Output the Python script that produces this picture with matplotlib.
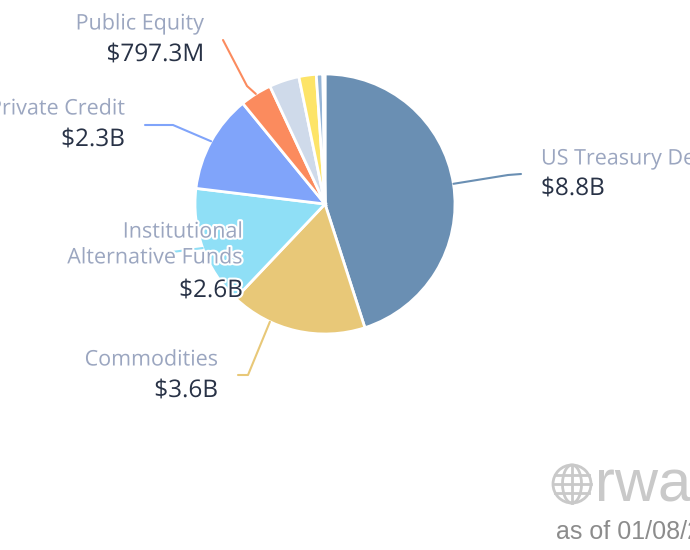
import numpy as np
import matplotlib.pyplot as plt
import matplotlib.patheffects as pe
from matplotlib.patches import Circle, Ellipse

W, H = 690, 550

# slice shares (billions USD)
categories = ['US Treasury Debt', 'Commodities', 'Institutional\nAlternative Funds',
              'Private Credit', 'Public Equity', '', '', '', '']
values = [8.8, 3.33, 2.9, 2.38, 0.77, 0.73, 0.42, 0.16, 0.05]
value_labels = ['$8.8B', '$3.6B', '$2.6B', '$2.3B', '$797.3M', '', '', '', '']
colors = ['#6a8fb3', '#e8c878', '#8fdff6', '#80a4fa', '#fb8b5e',
          '#cfdaea', '#fde468', '#97b6d7', '#c6a7f3']

label_col = '#9ba6c0'
value_col = '#283246'

plt.rcParams['font.family'] = ['Open Sans', 'DejaVu Sans']

fig = plt.figure(figsize=(W / 100, H / 100), dpi=100)
ax = fig.add_axes([0, 0, 1, 1])

cx, cy, r = 325, H - 204, 130
wedges, _ = ax.pie(values, colors=colors, startangle=90, counterclock=False,
                   center=(cx, cy), radius=r, frame=True,
                   wedgeprops=dict(edgecolor='white', linewidth=2))
ax.set_xlim(0, W)
ax.set_ylim(0, H)
ax.set_aspect('equal')
ax.axis('off')

halo = [pe.withStroke(linewidth=3, foreground='white')]

# label layout: (anchor frac in wedge, elbow x, elbow y, end x, end y,
#                text x, label y, value y, align)
layout = {
    0: (0.5, 508, 175, 521, 174, 541, 159, 189, 'left'),
    1: (0.3, 248, 375, 238, 375, 218, 360, 391, 'right'),
    2: (0.5, 172, 252, 165, 253, 243, 245, 291, 'right'),
    3: (0.5, 173, 125, 145, 125, 125, 109, 140, 'right'),
    4: (0.5, 247, 86, 223, 40, 204, 24, 55, 'right'),
}

for i, (f, x1, y1, x2, y2, tx, ly, vy, ha) in layout.items():
    w = wedges[i]
    ang = np.deg2rad(w.theta1 + (w.theta2 - w.theta1) * f)
    ax_x = cx + r * np.cos(ang)
    ax_y = cy + r * np.sin(ang)
    ax.plot([ax_x, x1, x2], [ax_y, H - y1, H - y2], color=colors[i], lw=1.5,
            zorder=1, solid_capstyle='round')
    ax.text(tx, H - ly, categories[i], ha=ha, va='center', fontsize=15.5,
            color=label_col, linespacing=1.3, path_effects=halo, zorder=5)
    ax.text(tx, H - vy, value_labels[i], ha=ha, va='center', fontsize=17.5,
            color=value_col, path_effects=halo, zorder=5)

# watermark
gx, gy, gr = 572, H - 484, 19
gray = '#c9c9c9'
ax.add_patch(Circle((gx, gy), gr, fill=False, ec=gray, lw=2))
ax.add_patch(Ellipse((gx, gy), gr * 1.0, gr * 2, fill=False, ec=gray, lw=2))
ax.plot([gx, gx], [gy - gr, gy + gr], color=gray, lw=2)
for dy in (-0.45, 0.45):
    hw = gr * np.sqrt(1 - dy ** 2)
    ax.plot([gx - hw, gx + hw], [gy + dy * gr, gy + dy * gr], color=gray, lw=2)
ax.plot([gx - gr, gx + gr], [gy, gy], color=gray, lw=2)
ax.text(595, H - 486, 'rwa', fontsize=43, color=gray, family='Liberation Sans',
        ha='left', va='center')
ax.text(556, H - 532, 'as of 01/08/2025', fontsize=18, color='#8c8c8c',
        family='Liberation Sans', ha='left', va='center')

fig.savefig('out.png', dpi=100)
